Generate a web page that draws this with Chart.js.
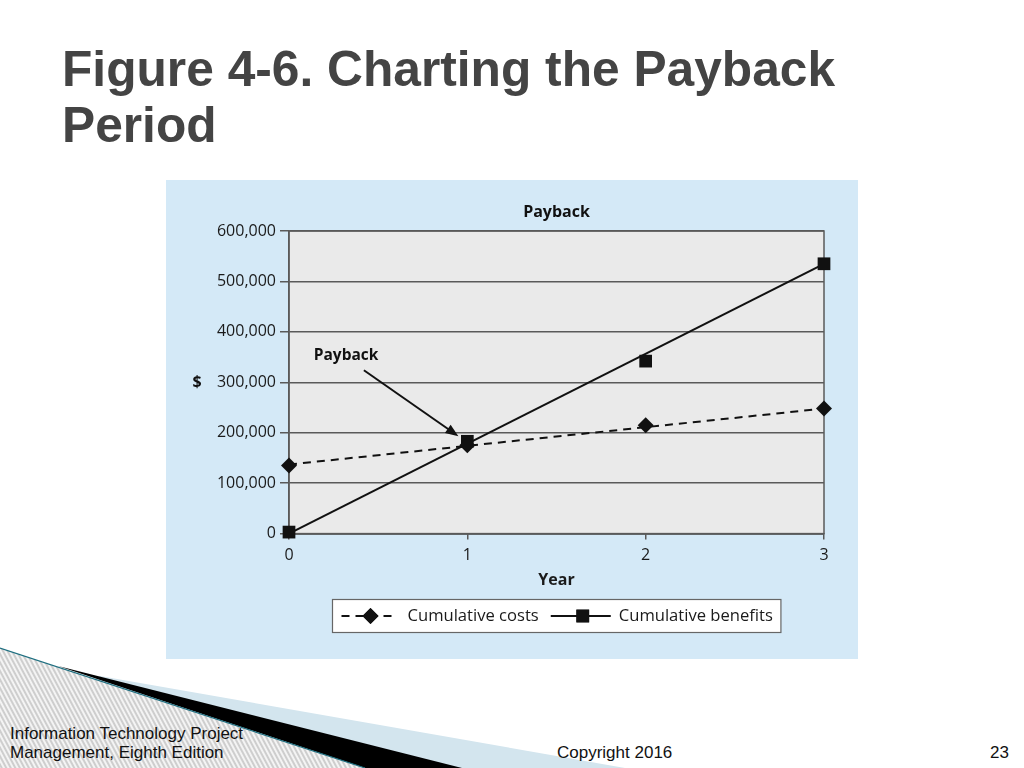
<!DOCTYPE html>
<html>
<head>
<meta charset="utf-8">
<script src="https://cdn.jsdelivr.net/npm/chart.js@4.4.1/dist/chart.umd.min.js"></script>
<style>
  body { margin: 0; width: 1024px; height: 768px; background: #fff; overflow: hidden; position: relative; font-family: "Liberation Sans", Arial, sans-serif; }
  #deco { position: absolute; left: 0; top: 0; }
  .title { position: absolute; left: 62px; top: 41px; font-size: 49.7px; line-height: 56px; font-weight: bold; color: #444; }
  .box { position: absolute; left: 166px; top: 180px; width: 692px; height: 479px; background: #d4e9f7; }
  .foot { position: absolute; font-size: 17px; line-height: 19px; color: #111; }
</style>
</head>
<body>
<svg id="deco" width="1024" height="768">
  <defs>
    <pattern id="hatch" width="4" height="4" patternUnits="userSpaceOnUse" patternTransform="rotate(-28)">
      <rect width="4" height="4" fill="#f4f4f4"/>
      <line x1="1" y1="0" x2="1" y2="4" stroke="#a9a9a9" stroke-width="1"/>
    </pattern>
  </defs>
  <polygon points="100,676 625,768 0,768" fill="#d3e5ee"/>
  <polygon points="58,666 462,768 365,768" fill="#000"/>
  <polygon points="0,648 365,768 0,768" fill="url(#hatch)"/>
  <line x1="0" y1="648" x2="365" y2="768" stroke="#1f6f80" stroke-width="1.2"/>
</svg>

<div class="title">Figure 4-6. Charting the Payback<br>Period</div>

<div class="box"><canvas id="myChart" width="692" height="479"></canvas></div>

<div class="foot" style="left:10px; top:724px;">Information Technology Project<br>Management, Eighth Edition</div>
<div class="foot" style="left:557px; top:743px;">Copyright 2016</div>
<div class="foot" style="left:990px; top:743px;">23</div>

<script>
// data
let years = [0, 1, 2, 3];
let cumulativeCosts = [135000, 175000, 215000, 248000];
let cumulativeBenefits = [3000, 183000, 342000, 535000];
// the lines in the figure are straight lines from year 0 to year 3
let lineYears = [0, 3];
let costsLine = [137000, 248000];
let benefitsLine = [0, 535000];
let yTicks = [0, 100000, 200000, 300000, 400000, 500000, 600000];
let xTicks = [0, 1, 2, 3];

let chartTitle = 'Payback';
let labelCosts = 'Cumulative costs';
let labelBenefits = 'Cumulative benefits';

// payback note (in data units)
let noteText = 'Payback';
let noteAt = [0.32, 352000];
let arrowFrom = [0.42, 324000];
let arrowTo = [0.95, 193000];

const FONT = '"Open Sans", "Noto Sans", sans-serif';

function pts(xs, ys) {
  return xs.map((x, i) => ({ x: x, y: ys[i] }));
}

// gray plot area with border
const plotBg = {
  id: 'plotBg',
  beforeDraw(chart) {
    const { ctx, chartArea: a } = chart;
    ctx.save();
    ctx.fillStyle = '#eaeaea';
    ctx.fillRect(a.left, a.top, a.right - a.left, a.bottom - a.top);
    ctx.restore();
  },
  beforeDatasetsDraw(chart) {
    const { ctx, chartArea: a } = chart;
    ctx.save();
    ctx.strokeStyle = '#5a5a5a';
    ctx.lineWidth = 1.5;
    ctx.strokeRect(a.left, a.top, a.right - a.left, a.bottom - a.top);
    ctx.restore();
  }
};

// title over the plot, arrow, note text and the "$" axis title
const notes = {
  id: 'notes',
  afterDraw(chart) {
    const { ctx, chartArea: a } = chart;
    const xs = chart.scales.x, ys = chart.scales.y;
    ctx.save();
    ctx.fillStyle = '#111';
    ctx.textAlign = 'center';
    ctx.textBaseline = 'middle';
    ctx.font = 'bold 16px ' + FONT;
    ctx.fillText(chartTitle, (a.left + a.right) / 2, a.top - 19);

    ctx.font = 'bold 15.5px ' + FONT;
    ctx.fillText(noteText, xs.getPixelForValue(noteAt[0]), ys.getPixelForValue(noteAt[1]));

    let x1 = xs.getPixelForValue(arrowFrom[0]), y1 = ys.getPixelForValue(arrowFrom[1]);
    let x2 = xs.getPixelForValue(arrowTo[0]), y2 = ys.getPixelForValue(arrowTo[1]);
    let ang = Math.atan2(y2 - y1, x2 - x1);
    ctx.strokeStyle = '#111';
    ctx.lineWidth = 2;
    ctx.beginPath();
    ctx.moveTo(x1, y1);
    ctx.lineTo(x2 - 10 * Math.cos(ang), y2 - 10 * Math.sin(ang));
    ctx.stroke();
    ctx.beginPath();
    ctx.moveTo(x2, y2);
    ctx.lineTo(x2 - 13 * Math.cos(ang) + 5 * Math.sin(ang), y2 - 13 * Math.sin(ang) - 5 * Math.cos(ang));
    ctx.lineTo(x2 - 13 * Math.cos(ang) - 5 * Math.sin(ang), y2 - 13 * Math.sin(ang) + 5 * Math.cos(ang));
    ctx.closePath();
    ctx.fill();

    // "$" sits upright next to the 300,000 label
    ctx.font = 'bold 16px ' + FONT;
    ctx.fillText('$', 31, ys.getPixelForValue(300000));
    ctx.restore();
  }
};

// legend box: line sample with marker in the middle
const lineLegend = {
  id: 'lineLegend',
  afterDraw(chart) {
    const { ctx, chartArea: a } = chart;
    ctx.save();
    ctx.font = '16.6px ' + FONT;
    let w1 = ctx.measureText(labelCosts).width;
    let w2 = ctx.measureText(labelBenefits).width;
    let boxW = 9 + 50 + 16 + w1 + 12 + 60 + 8 + w2 + 8;
    let boxH = 33;
    let left = Math.round((a.left + a.right) / 2 - boxW / 2) + 0.5;
    let top = 419.5;
    ctx.fillStyle = '#fff';
    ctx.fillRect(left, top, boxW, boxH);
    ctx.strokeStyle = '#666';
    ctx.lineWidth = 1.2;
    ctx.strokeRect(left, top, boxW, boxH);

    let cy = top + boxH / 2;
    let x = left + 9;
    ctx.strokeStyle = '#111';
    ctx.fillStyle = '#111';
    ctx.lineWidth = 2;
    ctx.setLineDash([8, 6]);
    ctx.beginPath();
    ctx.moveTo(x, cy);
    ctx.lineTo(x + 50, cy);
    ctx.stroke();
    ctx.setLineDash([]);
    Chart.helpers.drawPoint(ctx, { pointStyle: 'rectRot', radius: 8, borderWidth: 0, rotation: 0 }, x + 29, cy);
    ctx.fill();
    x += 50 + 16;
    ctx.textBaseline = 'middle';
    ctx.fillStyle = '#1a1a1a';
    ctx.fillText(labelCosts, x, cy);
    x += w1 + 12;

    ctx.fillStyle = '#111';
    ctx.beginPath();
    ctx.moveTo(x, cy);
    ctx.lineTo(x + 60, cy);
    ctx.stroke();
    Chart.helpers.drawPoint(ctx, { pointStyle: 'rect', radius: 9, borderWidth: 0, rotation: 0 }, x + 32, cy);
    ctx.fill();
    x += 60 + 8;
    ctx.fillStyle = '#1a1a1a';
    ctx.fillText(labelBenefits, x, cy);
    ctx.restore();
  }
};

Chart.defaults.font.family = FONT;
Chart.defaults.font.size = 16;
Chart.defaults.color = '#1a1a1a';

const chart = new Chart(document.querySelector('#myChart').getContext('2d'), {
  type: 'scatter',
  data: {
    datasets: [
      {
        label: labelCosts,
        data: pts(years, cumulativeCosts),
        pointStyle: 'rectRot',
        pointRadius: 8,
        backgroundColor: '#111',
        borderWidth: 0,
        showLine: false,
        clip: false
      },
      {
        label: labelBenefits,
        data: pts(years, cumulativeBenefits),
        pointStyle: 'rect',
        pointRadius: 9,
        backgroundColor: '#111',
        borderWidth: 0,
        showLine: false,
        clip: false
      },
      {
        label: labelCosts + ' line',
        data: pts(lineYears, costsLine),
        showLine: true,
        borderColor: '#111',
        borderWidth: 2,
        borderDash: [8, 6],
        pointRadius: 0
      },
      {
        label: labelBenefits + ' line',
        data: pts(lineYears, benefitsLine),
        showLine: true,
        borderColor: '#111',
        borderWidth: 2,
        pointRadius: 0
      }
    ]
  },
  options: {
    responsive: false,
    animation: false,
    layout: { padding: { left: 0, right: 34, top: 51, bottom: 69 } },
    plugins: {
      legend: { display: false },
      tooltip: { enabled: false },
      title: { display: false }
    },
    scales: {
      x: {
        type: 'linear',
        min: 0,
        max: 3,
        afterBuildTicks: (s) => { s.ticks = xTicks.map(v => ({ value: v })); },
        ticks: { padding: 6, color: '#1a1a1a' },
        grid: { drawOnChartArea: false, color: '#5a5a5a', lineWidth: 1.5, tickLength: 6 },
        border: { color: '#3a3a3a', width: 1.5 },
        title: { display: true, text: 'Year', font: { weight: 'bold', size: 16 }, color: '#1a1a1a', padding: { top: 0, bottom: 0 } }
      },
      y: {
        min: 0,
        max: 600000,
        afterBuildTicks: (s) => { s.ticks = yTicks.map(v => ({ value: v })); },
        afterFit: (s) => { s.width = 123; },
        ticks: {
          padding: 4,
          color: '#1a1a1a',
          callback: (v) => v.toLocaleString('en-US')
        },
        grid: { color: '#5a5a5a', lineWidth: 1.5, tickLength: 9 },
        border: { color: '#5a5a5a', width: 1.5 }
      }
    }
  },
  plugins: [plotBg, notes, lineLegend]
});
</script>
</body>
</html>
